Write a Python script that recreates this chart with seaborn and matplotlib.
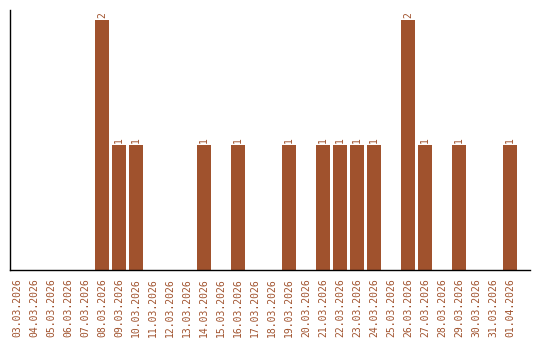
import matplotlib
matplotlib.use("Agg")
import matplotlib.pyplot as plt
import seaborn as sns
import pandas as pd

dates = ["03.03.2026", "04.03.2026", "05.03.2026", "06.03.2026", "07.03.2026",
         "08.03.2026", "09.03.2026", "10.03.2026", "11.03.2026", "12.03.2026",
         "13.03.2026", "14.03.2026", "15.03.2026", "16.03.2026", "17.03.2026",
         "18.03.2026", "19.03.2026", "20.03.2026", "21.03.2026", "22.03.2026",
         "23.03.2026", "24.03.2026", "25.03.2026", "26.03.2026", "27.03.2026",
         "28.03.2026", "29.03.2026", "30.03.2026", "31.03.2026", "01.04.2026"]
counts = [0, 0, 0, 0, 0,
          2, 1, 1, 0, 0,
          0, 1, 0, 1, 0,
          0, 1, 0, 1, 1,
          1, 1, 0, 2, 1,
          0, 1, 0, 0, 1]

color = "#A0522D"
sns.set_style("white")
plt.rcParams['font.family'] = ['DejaVu Sans Mono', 'DejaVu Sans']

df = pd.DataFrame({"date": dates, "count": counts})
fig = plt.figure(figsize=(5.4, 3.4), dpi=100)
ax = fig.add_axes([10/540, 70/340, 520/540, 260/340])
sns.barplot(data=df, x="date", y="count", color=color, saturation=1, width=0.82,
            linewidth=0, ax=ax)

for i, v in enumerate(counts):
    if v > 0:
        ax.text(i, v + 0.015, str(v), rotation=90, ha="center", va="bottom",
                color=color, fontsize=7)

ax.set_xlim(-0.41, 30.18)
ax.set_ylim(0, 2.08)
ax.set_yticks([])
ax.set_xlabel("")
ax.set_ylabel("")
ax.tick_params(axis="x", length=0, pad=6, labelsize=7, labelcolor=color, rotation=90)
for s in ["top", "right"]:
    ax.spines[s].set_visible(False)
for s in ["left", "bottom"]:
    ax.spines[s].set_color("black")
    ax.spines[s].set_linewidth(1.0)

fig.savefig("out.png", dpi=100)
